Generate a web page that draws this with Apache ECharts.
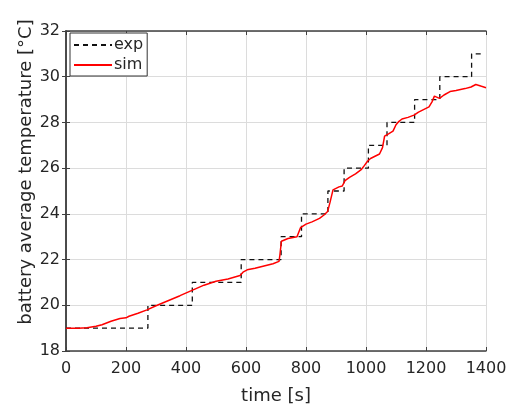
<!DOCTYPE html>
<html><head><meta charset="utf-8">
<script src="https://cdn.jsdelivr.net/npm/echarts@6/dist/echarts.min.js"></script>
<style>html,body{margin:0;padding:0;background:#fff}#c{width:515px;height:408px}</style>
</head><body><div id="c"></div>
<script>
// experimental step data: [time, temperature] at each step change
const expTime = [0, 273, 421, 584, 717, 785, 873, 927, 1008, 1070, 1162, 1246, 1352, 1387];
const expTemp = [19, 20, 21, 22, 23, 24, 25, 26, 27, 28, 29, 30, 31, 31];
// simulated curve
const simTime = [0, 40, 70, 100, 120, 150, 180, 200, 210, 240, 270, 300, 340, 380, 420, 460, 500, 540, 580, 590, 604, 630, 660, 690, 710, 713, 718, 740, 770, 776, 782, 800, 820, 845, 860, 872, 880, 890, 910, 921, 930, 945, 965, 985, 995, 1005, 1015, 1030, 1045, 1055, 1062, 1075, 1090, 1100, 1110, 1120, 1140, 1160, 1175, 1190, 1210, 1220, 1228, 1245, 1260, 1280, 1300, 1330, 1350, 1366, 1385, 1400];
const simTemp = [19.0, 19.0, 19.02, 19.08, 19.15, 19.3, 19.42, 19.45, 19.52, 19.65, 19.8, 19.98, 20.2, 20.42, 20.65, 20.88, 21.05, 21.15, 21.3, 21.45, 21.55, 21.62, 21.72, 21.82, 21.92, 22.2, 22.8, 22.92, 23.0, 23.05, 23.4, 23.55, 23.65, 23.8, 23.95, 24.1, 24.5, 25.05, 25.18, 25.22, 25.45, 25.6, 25.75, 25.95, 26.12, 26.3, 26.42, 26.52, 26.62, 26.9, 27.4, 27.5, 27.62, 27.9, 28.05, 28.15, 28.22, 28.32, 28.45, 28.55, 28.68, 28.9, 29.15, 29.05, 29.2, 29.35, 29.4, 29.48, 29.55, 29.66, 29.58, 29.52];
const xTicks = [0, 200, 400, 600, 800, 1000, 1200, 1400];
const yTicks = [18, 20, 22, 24, 26, 28, 30, 32];

const FONT = 'DejaVu Sans';
const TXT = '#262626';
const AX = '#404040';
const chart = echarts.init(document.getElementById('c'), null, {renderer: 'canvas'});
const gridLine = {show: true, lineStyle: {color: '#dcdcdc', width: 1}};
chart.setOption({
  animation: false,
  backgroundColor: '#fff',
  textStyle: {fontFamily: FONT},
  grid: {left: 66, right: 29, top: 31, bottom: 57, containLabel: false, outerBoundsMode: 'none'},
  legend: {
    orient: 'vertical', left: 70, top: 33,
    backgroundColor: '#fff', borderColor: '#333', borderWidth: 1,
    padding: [4, 4, 3, 3], itemGap: 4, itemWidth: 38, itemHeight: 14,
    itemStyle: {opacity: 0},
    textStyle: {fontFamily: FONT, fontSize: 16, color: TXT, padding: [0, 0, 0, -3]},
    data: ['exp', 'sim']
  },
  xAxis: [{
    type: 'value', min: xTicks[0], max: xTicks[xTicks.length - 1], interval: 200,
    name: 'time [s]', nameLocation: 'middle', nameGap: 36, nameMoveOverlap: false,
    nameTextStyle: {fontFamily: FONT, fontSize: 18, color: TXT},
    axisLine: {show: true, lineStyle: {color: AX, width: 1.5}},
    axisTick: {show: true, inside: true, length: 4, lineStyle: {color: AX}},
    axisLabel: {fontFamily: FONT, fontSize: 16, color: TXT, margin: 10, formatter: v => String(v)},
    splitLine: gridLine
  }, {
    type: 'value', position: 'top', min: 0, max: 1400, interval: 200,
    axisLine: {show: true, lineStyle: {color: AX, width: 1.5}},
    axisTick: {show: true, inside: true, length: 4, lineStyle: {color: AX}},
    axisLabel: {show: false}, splitLine: {show: false}
  }],
  yAxis: [{
    type: 'value', min: yTicks[0], max: yTicks[yTicks.length - 1], interval: 2,
    name: 'battery average temperature [°C]', nameLocation: 'middle', nameGap: 31, nameMoveOverlap: false,
    nameTextStyle: {fontFamily: FONT, fontSize: 18, color: TXT, padding: [0, 0, 0, 38]},
    axisLine: {show: true, lineStyle: {color: AX, width: 1.5}},
    axisTick: {show: true, inside: true, length: 4, lineStyle: {color: AX}},
    axisLabel: {fontFamily: FONT, fontSize: 16, color: TXT, margin: 6, formatter: v => String(v)},
    splitLine: gridLine
  }, {
    type: 'value', position: 'right', min: 18, max: 32, interval: 2,
    axisLine: {show: true, lineStyle: {color: AX, width: 1.5}},
    axisTick: {show: true, inside: true, length: 4, lineStyle: {color: AX}},
    axisLabel: {show: false}, splitLine: {show: false}
  }],
  series: [{
    name: 'exp', type: 'line', step: 'end', symbol: 'none',
    data: expTime.map((t, i) => [t, expTemp[i]]),
    lineStyle: {color: '#111', width: 1.3, type: [5, 4]}, itemStyle: {color: '#111'}
  }, {
    name: 'sim', type: 'line', symbol: 'none',
    data: simTime.map((t, i) => [t, simTemp[i]]),
    lineStyle: {color: '#ff0000', width: 1.5}, itemStyle: {color: '#ff0000'}
  }]
});
</script></body></html>
